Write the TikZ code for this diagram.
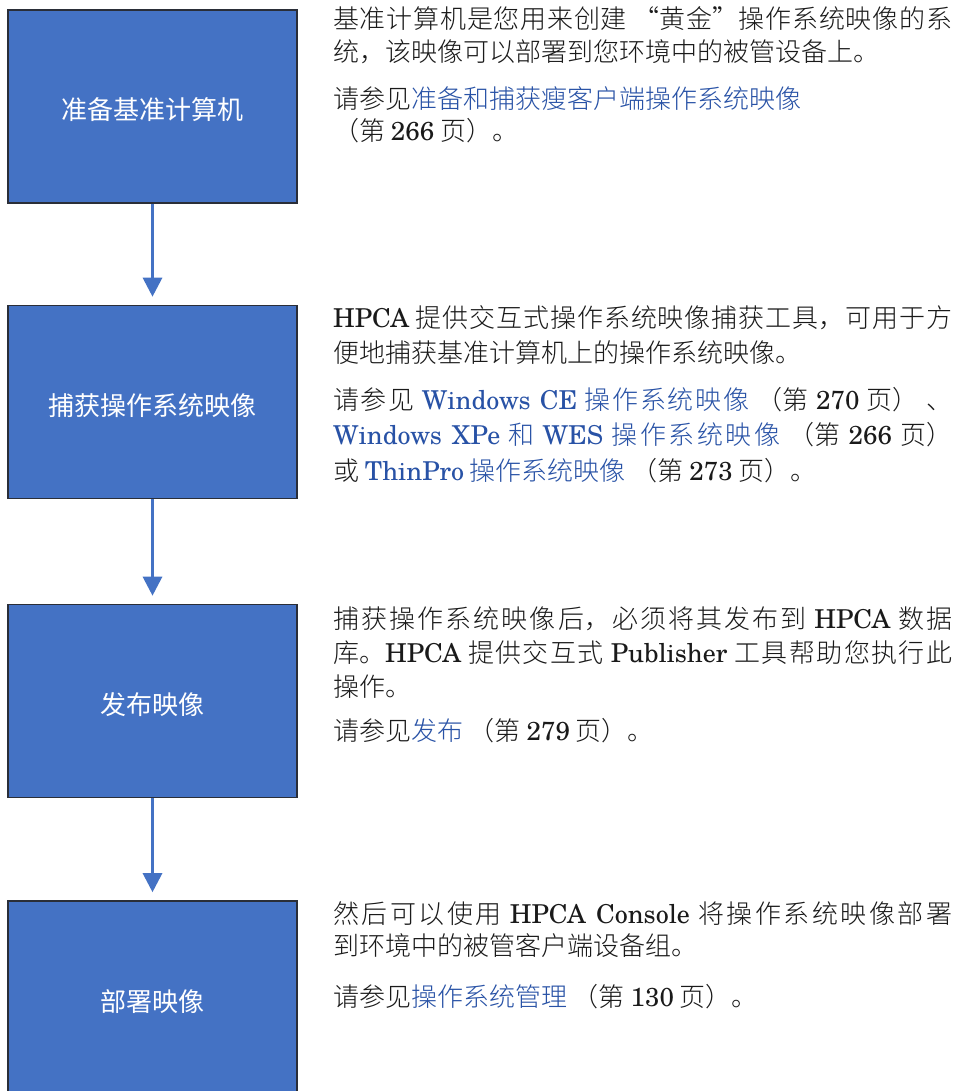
\documentclass[tikz,border=0pt]{standalone}
\usepackage{fontspec}
\usetikzlibrary{arrows.meta}
\IfFontExistsTF{texgyreschola-regular.otf}
  {\newfontfamily\latinfont{texgyreschola-regular.otf}}
  {\newfontfamily\latinfont{Liberation Serif}}
\IfFontExistsTF{FandolSong-Regular.otf}
  {\setmainfont{FandolSong-Regular.otf}}
  {\IfFontExistsTF{Noto Sans CJK SC Light}
     {\setmainfont{Noto Sans CJK SC Light}}
     {\setmainfont{Noto Sans CJK SC}}}
\newfontfamily\zhsans{Noto Sans CJK SC}
\newcommand\lat[1]{{\latinfont #1}}
\XeTeXlinebreaklocale "zh"
\XeTeXlinebreakskip=0pt plus 3pt minus 0.5pt
\tolerance=9999
\emergencystretch=10pt
\definecolor{boxblue}{HTML}{4472C4}
\definecolor{boxedge}{HTML}{2A2E38}
\definecolor{linkblue}{HTML}{2852A6}
\definecolor{bodytext}{HTML}{1A1A1A}
\newcommand\lk[1]{\textcolor{linkblue}{#1}}
\tikzset{
  stepbox/.style={rectangle, fill=boxblue, draw=boxedge, line width=1.6pt,
    minimum width=289pt, minimum height=193pt, inner sep=0pt, text=white,
    text height=27pt, text depth=0pt,
    font=\zhsans\fontsize{26}{30}\selectfont},
  flow/.style={draw=boxblue, line width=3pt, -{Triangle[width=19pt,length=19pt]}},
  para/.style={anchor=base west, inner sep=0pt, text width=619pt, align=justify,
    text=bodytext},
}
\begin{document}
\begin{tikzpicture}[x=1pt,y=-1pt]
\useasboundingbox (0,0) rectangle (954,1091);
\clip (0,0) rectangle (954,1091);
\fill[white] (0,0) rectangle (954,1091);

% boxes
\node[stepbox] (b1) at (152.5,106.5) {准备基准计算机};
\node[stepbox] (b2) at (152.5,402) {捕获操作系统映像};
\node[stepbox] (b3) at (152.5,701) {发布映像};
\node[stepbox] (b4) at (152.5,997.5) {部署映像};

% arrows
\draw[flow] (b1.south) -- ([yshift=8pt]b2.north);
\draw[flow] (b2.south) -- ([yshift=8pt]b3.north);
\draw[flow] (b3.south) -- ([yshift=8pt]b4.north);

% texts
\node[para, font=\fontsize{26}{33}\selectfont] (t1a) at (333,29)
  {基准计算机是您用来创建 “黄金”操作系统映像的系\linebreak
   统，该映像可以部署到您环境中的被管设备上。};
\node[para, font=\fontsize{26}{32}\selectfont] (t1b) at (333,109)
  {请参见\lk{准备和捕获瘦客户端操作系统映像}\\（第 \lat{266} 页）。};

\node[para, font=\fontsize{26}{35}\selectfont] (t2a) at (333,327)
  {\lat{HPCA} 提供交互式操作系统映像捕获工具，可用于方\linebreak
   便地捕获基准计算机上的操作系统映像。};
\node[para, font=\fontsize{26}{35.5}\selectfont] (t2b) at (333,409)
  {请参见 \lk{\lat{Windows CE} 操作系统映像} （第 \lat{270} 页） 、\linebreak
   \lk{\lat{Windows XPe} 和 \lat{WES} 操作系统映像} （第 \lat{266} 页）\linebreak
   或 \lk{\lat{ThinPro} 操作系统映像} （第 \lat{273} 页）。};

\node[para, font=\fontsize{26}{34}\selectfont] (t3a) at (333,628)
  {捕获操作系统映像后，必须将其发布到 \lat{HPCA} 数据\linebreak
   库。\lat{HPCA} 提供交互式 \lat{Publisher} 工具帮助您执行此\linebreak
   操作。};
\node[para, font=\fontsize{26}{33}\selectfont] (t3b) at (333,740)
  {请参见\lk{发布} （第 \lat{279} 页）。};

\node[para, font=\fontsize{26}{32}\selectfont] (t4a) at (333,923)
  {然后可以使用 \lat{HPCA Console} 将操作系统映像部署\linebreak
   到环境中的被管客户端设备组。};
\node[para, font=\fontsize{26}{33}\selectfont] (t4b) at (333,1006)
  {请参见\lk{操作系统管理} （第 \lat{130} 页）。};
\end{tikzpicture}
\end{document}
